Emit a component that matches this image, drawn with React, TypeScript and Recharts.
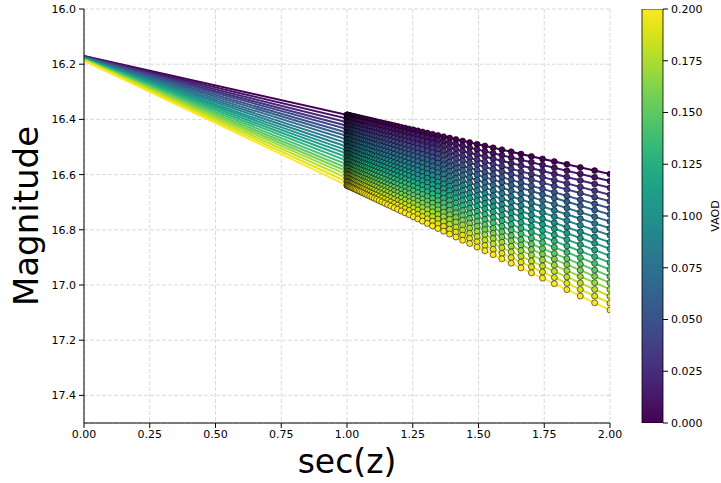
import React from 'react';
import { ComposedChart, Line, Scatter, XAxis, YAxis, CartesianGrid, BarChart, Bar } from 'recharts';

// VAOD value of each fitted line (colour-coded)
const vaod = [0, 0.01, 0.02, 0.03, 0.04, 0.05, 0.06, 0.07, 0.08, 0.09, 0.1, 0.11, 0.12, 0.13, 0.14, 0.15, 0.16, 0.17, 0.18, 0.19, 0.2];
// magnitude at sec(z) = 0 for each VAOD
const zeroPoint = [16.170, 16.171, 16.172, 16.173, 16.173, 16.174, 16.175, 16.176, 16.177, 16.178, 16.179, 16.179, 16.180, 16.181, 16.182, 16.183, 16.184, 16.184, 16.185, 16.186, 16.187];
// extinction slope (mag per airmass) for each VAOD
const extinction = [0.214, 0.226, 0.238, 0.250, 0.262, 0.274, 0.285, 0.297, 0.309, 0.321, 0.333, 0.345, 0.357, 0.369, 0.381, 0.393, 0.404, 0.416, 0.428, 0.440, 0.452];
// airmass sample points sec(z)
const airmass = [1.0000, 1.0002, 1.0006, 1.0014, 1.0024, 1.0038, 1.0055, 1.0075, 1.0098, 1.0125, 1.0154, 1.0187, 1.0223, 1.0263, 1.0306, 1.0353, 1.0403, 1.0457, 1.0515, 1.0576, 1.0642, 1.0711, 1.0785, 1.0864, 1.0946, 1.1034, 1.1126, 1.1223, 1.1326, 1.1434, 1.1547, 1.1666, 1.1792, 1.1924, 1.2062, 1.2208, 1.2361, 1.2521, 1.2690, 1.2868, 1.3054, 1.3250, 1.3456, 1.3673, 1.3902, 1.4142, 1.4396, 1.4663, 1.4945, 1.5243, 1.5557, 1.5890, 1.6243, 1.6616, 1.7013, 1.7434, 1.7883, 1.8361, 1.8871, 1.9416, 2.0000];
// line ends in sec(z)
const lineEnds = [0, 2];

const viridis = ['#440154', '#471365', '#482475', '#463480', '#414487', '#3b528b', '#355f8d', '#2f6c8e', '#2a788e', '#25848e', '#21918c', '#1e9c89', '#22a884', '#2fb47c', '#44bf70', '#5ec962', '#7ad151', '#9bd93c', '#bddf26', '#dfe318', '#fde725'];

const xTicks = [0, 0.25, 0.5, 0.75, 1.0, 1.25, 1.5, 1.75, 2.0];
const yTicks = [16.0, 16.2, 16.4, 16.6, 16.8, 17.0, 17.2, 17.4];
const cbTicks = [0, 0.025, 0.05, 0.075, 0.1, 0.125, 0.15, 0.175, 0.2];
const cbData = [{ name: 'VAOD', v: 0.2 }];

const FONT = 'DejaVu Sans';
const tickStyle = { fontSize: 11, fill: '#000', fontFamily: FONT };

const seriesLines = vaod.map((_, i) => lineEnds.map((x) => ({ x, y: zeroPoint[i] + extinction[i] * x })));
const seriesPoints = vaod.map((_, i) => airmass.map((x) => ({ x, y: zeroPoint[i] + extinction[i] * x })));

export default function App() {
  return (
    <div style={{ position: 'absolute', left: 0, top: 0, width: 721, height: 483, background: '#fff' }}>
      <div style={{ position: 'absolute', left: 0, top: 0 }}>
        <ComposedChart width={721} height={483} margin={{ top: 9, right: 111, bottom: 30, left: 24 }}>
          <CartesianGrid stroke="#d0d0d0" strokeDasharray="4 2" strokeWidth={0.8} />
          <XAxis
            type="number"
            dataKey="x"
            domain={[0, 2]}
            ticks={xTicks}
            allowDataOverflow
            height={30}
            tickFormatter={(v: number) => v.toFixed(2)}
            tick={tickStyle}
            tickSize={5}
            tickMargin={2}
            axisLine={{ stroke: '#000', strokeWidth: 1 }}
            tickLine={{ stroke: '#000', strokeWidth: 1 }}
          />
          <XAxis xAxisId="top" orientation="top" type="number" domain={[0, 2]} height={0} tick={false} tickLine={false} axisLine={{ stroke: '#000', strokeWidth: 1 }} />
          <YAxis
            type="number"
            dataKey="y"
            domain={[16, 17.5]}
            reversed
            ticks={yTicks}
            allowDataOverflow
            width={60}
            tickFormatter={(v: number) => v.toFixed(1)}
            tick={tickStyle}
            tickSize={5}
            tickMargin={3}
            axisLine={{ stroke: '#000', strokeWidth: 1 }}
            tickLine={{ stroke: '#000', strokeWidth: 1 }}
          />
          <YAxis yAxisId="right" orientation="right" type="number" domain={[16, 17.5]} width={0} tick={false} tickLine={false} axisLine={{ stroke: '#000', strokeWidth: 1 }} />
          {vaod.map((v, i) => [
            <Scatter
              key={'s' + i}
              data={seriesPoints[i]}
              dataKey="y"
              isAnimationActive={false}
              shape={(p: any) => (
                <circle cx={p.cx} cy={p.cy} r={3} fill={viridis[i]} stroke="#000" strokeOpacity={0.55} strokeWidth={1} />
              )}
            />,
            <Line
              key={'l' + i}
              data={seriesLines[i]}
              dataKey="y"
              stroke={viridis[i]}
              strokeWidth={2}
              dot={false}
              activeDot={false}
              isAnimationActive={false}
            />,
          ])}
        </ComposedChart>
      </div>
      <svg style={{ position: 'absolute', left: 0, top: 0, pointerEvents: 'none' }} width={721} height={483}>
        <text x={347} y={473} textAnchor="middle" fontFamily={FONT} fontSize={33} fill="#000">sec(z)</text>
        <text x={0} y={0} transform="translate(38,216) rotate(-90)" textAnchor="middle" fontFamily={FONT} fontSize={34} fill="#000">Magnitude</text>
        <text x={0} y={0} transform="translate(719,216) rotate(-90)" textAnchor="middle" fontFamily={FONT} fontSize={11} fill="#000">VAOD</text>
      </svg>
      <div style={{ position: 'absolute', left: 600, top: 0 }}>
        <BarChart width={121} height={483} data={cbData} margin={{ top: 9, right: 8, bottom: 60, left: 42 }} barCategoryGap={0} barGap={0}>
          <defs>
            <linearGradient id="viridisGrad" x1="0" y1="1" x2="0" y2="0">
              {viridis.map((c, i) => (
                <stop key={i} offset={i / (viridis.length - 1)} stopColor={c} />
              ))}
            </linearGradient>
          </defs>
          <XAxis dataKey="name" hide />
          <YAxis
            orientation="right"
            type="number"
            domain={[0, 0.2]}
            ticks={cbTicks}
            allowDataOverflow
            width={50}
            tickFormatter={(v: number) => v.toFixed(3)}
            tick={tickStyle}
            tickSize={5}
            tickMargin={3}
            axisLine={false}
            tickLine={{ stroke: '#000', strokeWidth: 1 }}
          />
          <Bar dataKey="v" fill="url(#viridisGrad)" stroke="#000" strokeWidth={0.8} isAnimationActive={false} />
        </BarChart>
      </div>
    </div>
  );
}
